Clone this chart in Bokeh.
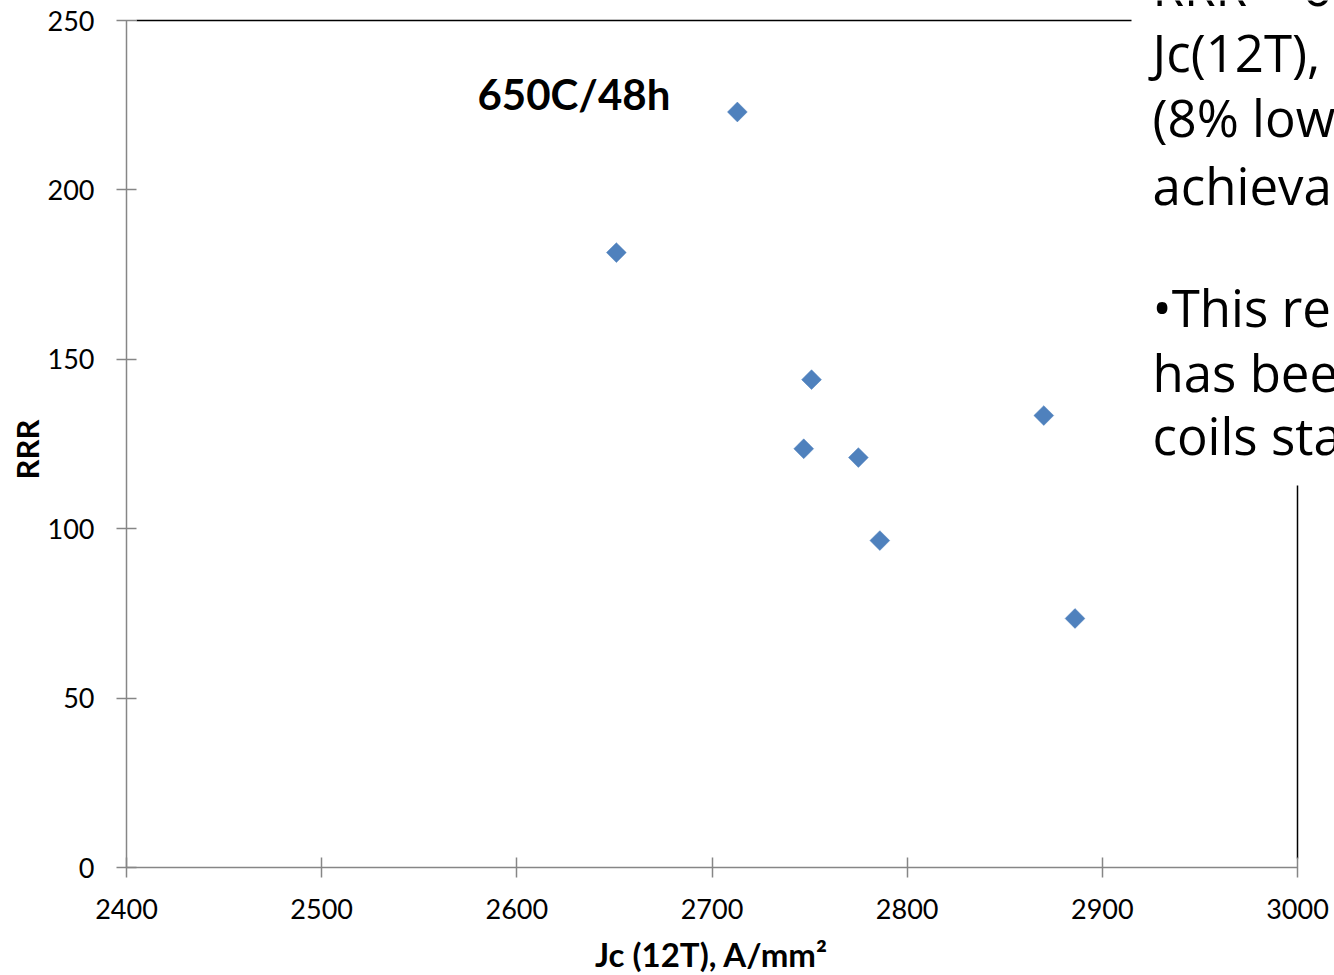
from bokeh.plotting import figure
from bokeh.models import ColumnDataSource, FixedTicker, Label, Range1d, LinearAxis
from bokeh.embed import file_html
from bokeh.resources import INLINE
import math

# ---- data ----
jc_12t = [2713, 2651, 2751, 2747, 2775, 2786, 2870, 2886]
rrr = [223.0, 181.5, 144.0, 123.6, 121.0, 96.5, 133.4, 73.5]
x_ticks = [2400, 2500, 2600, 2700, 2800, 2900, 3000]
y_ticks = [0, 50, 100, 150, 200, 250]
x_title = "Jc (12T), A/mm\u00b2"
y_title = "RRR"
annotation = "650C/48h"
side_text = ["RRR > 6", "Jc(12T),", "(8% lowe", "achieva",
             "\u2022This re", "has bee", "coils sta"]

X0, X1 = 2400, 3000
Y0, Y1 = 0, 250

W, H = 1334, 975
# chart axes in page pixels: x 2400..3000 -> 126..1297, y 0..250 -> 867..20
AL, AR, AT, AB = 126, 1297, 20, 867


def dx(px):
    return X0 + (px - AL) * (X1 - X0) / (AR - AL)


def dy(py):
    return Y0 + (AB - py) * (Y1 - Y0) / (AB - AT)


# the plotting frame covers the whole page; axes sit at fixed data locations
p = figure(width=W, height=H, output_backend="svg", toolbar_location=None,
           x_range=Range1d(dx(0), dx(W)), y_range=Range1d(dy(H), dy(0)),
           x_axis_location=None, y_axis_location=None,
           min_border=0)
p.background_fill_color = "white"
p.border_fill_color = "white"
p.outline_line_color = None
p.grid.visible = False

AXIS_COL = "#868686"
xax = LinearAxis(fixed_location=Y0, bounds=(X0, X1),
                 ticker=FixedTicker(ticks=x_ticks))
yax = LinearAxis(fixed_location=X0, bounds=(Y0, Y1),
                 ticker=FixedTicker(ticks=y_ticks))
for ax in (xax, yax):
    ax.axis_line_color = AXIS_COL
    ax.axis_line_width = 1.5
    ax.major_tick_line_color = AXIS_COL
    ax.major_tick_line_width = 1.5
    ax.major_tick_in = 10
    ax.major_tick_out = 10
    ax.minor_tick_line_color = None
    ax.major_label_text_font = "Lato"
    ax.major_label_text_font_size = "27px"
    ax.major_label_text_color = "black"
xax.major_label_standoff = 21
yax.major_label_standoff = 22
p.add_layout(xax, "below")
p.add_layout(yax, "left")

src = ColumnDataSource(dict(x=jc_12t, y=rrr))
p.scatter("x", "y", source=src, marker="square", size=14, angle=math.pi / 4,
          fill_color="#4F81BD", line_color="#4F81BD", line_width=0.5)

# slide decorations: top border line and right border line
p.segment(x0=[dx(136)], y0=[dy(20)], x1=[dx(1131)], y1=[dy(20)],
          line_color="black", line_width=1.5)
p.segment(x0=[dx(1297)], y0=[dy(485)], x1=[dx(1297)], y1=[dy(858)],
          line_color="black", line_width=1.5)

SHIFT = 0.4  # em, compensates the label's line box below the baseline


def text_at(px, base_py, txt, font, size, bold=False, align="left"):
    p.add_layout(Label(x=dx(px), y=dy(base_py - SHIFT * size), text=txt,
                       text_font=font,
                       text_font_style="bold" if bold else "normal",
                       text_font_size=f"{size}px", text_color="black",
                       text_align=align, text_baseline="alphabetic"))


# axis titles
text_at(711, 967, x_title, "Lato", 33, bold=True, align="center")
p.add_layout(Label(x=dx(26), y=dy(449), text=y_title, angle=math.pi / 2,
                   text_font="Lato", text_font_style="bold",
                   text_font_size="31px", text_color="black",
                   text_align="center", text_baseline="middle"))

# in-chart annotation
text_at(477, 110, annotation, "Lato", 42, bold=True)

# slide text to the right of the chart
baselines = [6, 72, 137, 205, 327, 392, 455]
for t, b in zip(side_text, baselines):
    text_at(1152, b, t, "Open Sans", 51)

open("out.html", "w").write(file_html(p, INLINE))
